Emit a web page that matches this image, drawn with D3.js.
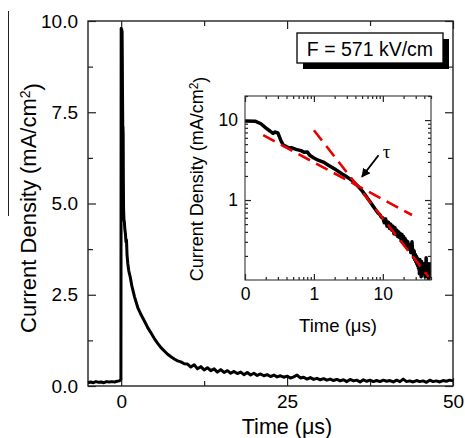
<!DOCTYPE html>
<html><head><meta charset="utf-8">
<script src="https://cdn.jsdelivr.net/npm/d3@7"></script>
<style>
body{margin:0;background:#fff}
svg{display:block}
text{font-family:"Liberation Sans",Arial,Helvetica,sans-serif;fill:#000}
</style>
</head><body>
<svg id="c" width="465" height="438"></svg>
<script>
// ---- data (time in µs, current density in mA/cm²) ----
const timeUs = [
 -5,-4.6,-4.2,-3.8,-3.4,-3,-2.6,-2.2,-1.8,-1.4,-1,-0.6,-0.3,-0.1,-0.04,
 0,0.1,0.14,0.17,0.2,0.23,0.255,0.27,0.3,0.33,0.36,0.42,0.48,0.55,0.65,0.72,0.8,0.88,
 1,1.15,1.37,1.6,2,2.5,3,3.5,4,4.5,5,5.5,6,6.5,7,7.5,8,8.5,9,9.5,
 10,10.5,11,11.5,12,12.5,13,13.5,14,14.5,15,15.5,16,16.5,17,17.5,18,18.5,19,19.5,
 20,20.5,21,21.5,22,22.5,23,23.5,24,24.5,25,25.5,26,26.5,27,27.5,28,28.5,29,29.5,
 30,30.5,31,31.5,32,32.5,33,33.5,34,34.5,35,35.5,36,36.5,37,37.5,38,38.5,39,39.5,
 40,40.5,41,41.5,42,42.5,43,43.5,44,44.5,45,45.5,46,46.5,47,47.5,48,48.5,49,49.5,50
];
const currentDensity = [
 0.09,0.11,0.09,0.12,0.10,0.11,0.09,0.12,0.11,0.12,0.11,0.13,0.14,0.16,0.2,
 9.8,9.75,9.7,9.0,8.0,7.3,6.8,7.1,6.9,5.6,4.85,4.55,4.5,4.3,4.15,3.95,4.0,3.6,
 3.35,3.15,2.98,2.75,2.45,2.15,1.95,1.78,1.6,1.45,1.3,1.17,1.05,0.96,0.87,0.80,0.74,0.69,0.66,0.61,
 0.60,0.52,0.58,0.47,0.53,0.44,0.50,0.42,0.47,0.38,0.45,0.37,0.42,0.35,0.40,0.34,0.38,0.31,0.37,0.30,
 0.35,0.29,0.33,0.28,0.31,0.26,0.30,0.25,0.28,0.24,0.27,0.22,0.25,0.30,0.22,0.24,0.19,0.23,0.18,0.21,
 0.17,0.20,0.16,0.19,0.15,0.18,0.14,0.17,0.12,0.18,0.14,0.16,0.11,0.17,0.13,0.16,0.12,0.15,0.12,0.16,
 0.13,0.15,0.11,0.16,0.12,0.19,0.12,0.14,0.11,0.15,0.12,0.14,0.10,0.16,0.12,0.14,0.11,0.15,0.13,0.16,0.14
];
// power-law fits in the inset (endpoints)
const fitShortT = [0.184, 26.5], fitShortJ = [6.47, 0.65];
const fitLongT  = [1.0, 46],    fitLongJ  = [7.46, 0.11];
// tau annotation (data coords of inset)
const tauArrowT = [8.67, 4.97], tauArrowJ = [3.63, 1.95];
const tauLabelT = 10, tauLabelJ = 3.5;

const mainXTicks = [0, 25, 50], mainXMinor = [12.5, 37.5];
const mainYTicks = [0, 2.5, 5, 7.5, 10], mainYMinor = [1.25, 3.75, 6.25, 8.75];
const insetXTicks = [0.1, 1, 10], insetXLabels = ["0", "1", "10"];
const insetXMinor = [0.2,0.3,0.4,0.5,0.6,0.7,0.8,0.9,2,3,4,5,6,7,8,9,20,30,40,50];
const insetYTicks = [1, 10], insetYLabels = ["1", "10"];
const insetYMinor = [0.2,0.3,0.4,0.5,0.6,0.7,0.8,0.9,2,3,4,5,6,7,8,9,20];
const legendText = "F = 571 kV/cm";

const data = timeUs.map((t, i) => ({t, j: currentDensity[i]}));
const svg = d3.select("#c");

// stray scan line seen in the reference
svg.append("line").attr("x1",8.5).attr("x2",8.5).attr("y1",11).attr("y2",216)
  .attr("stroke","#222").attr("stroke-width",1);

// ---- main plot ----
const M = {l:88, r:453, t:21, b:386};
const x = d3.scaleLinear().domain([-5, 50]).range([M.l, M.r]);
const y = d3.scaleLinear().domain([0, 10]).range([M.b, M.t]);

function ax(gen, tx, ty, vals, size, labels, pad, fs){
  const g = svg.append("g").attr("transform", `translate(${tx},${ty})`)
    .call(gen.tickValues(vals).tickSize(size).tickPadding(pad||0)
      .tickFormat(labels ? ((d,i)=>labels[i]) : ()=>""));
  g.select(".domain").remove();
  g.selectAll(".tick line").attr("stroke","#222").attr("stroke-width",1.2);
  g.selectAll("text").style("font-size",(fs||18)+"px").attr("fill","#111");
  return g;
}
ax(d3.axisBottom(x), 0, M.b, mainXTicks, -8, mainXTicks.map(String), 9, 19);
ax(d3.axisBottom(x), 0, M.b, mainXMinor, -5);
ax(d3.axisTop(x), 0, M.t, mainXTicks, -8);
ax(d3.axisTop(x), 0, M.t, mainXMinor, -5);
ax(d3.axisLeft(y), M.l, 0, mainYTicks, -8, mainYTicks.map(d=>d.toFixed(1)), 10, 19);
ax(d3.axisLeft(y), M.l, 0, mainYMinor, -5);
ax(d3.axisRight(y), M.r, 0, mainYTicks, -8);
ax(d3.axisRight(y), M.r, 0, mainYMinor, -5);

svg.append("rect").attr("x",M.l).attr("y",M.t).attr("width",M.r-M.l).attr("height",M.b-M.t)
  .attr("fill","none").attr("stroke","#222").attr("stroke-width",1.4);

svg.append("path").datum(data)
  .attr("d", d3.line().x(d=>x(d.t)).y(d=>y(d.j)))
  .attr("fill","none").attr("stroke","#000").attr("stroke-width",3).attr("stroke-linejoin","round");

// main axis titles
svg.append("text").attr("x", 287).attr("y", 434).attr("text-anchor","middle")
  .style("font-size","21.5px").text("Time (\u03bcs)");
const yl = svg.append("text").attr("transform","translate(36,208) rotate(-90)")
  .attr("text-anchor","middle").style("font-size","22px");
yl.append("tspan").text("Current Density (mA/cm");
yl.append("tspan").attr("dy","-0.45em").style("font-size","14px").text("2");
yl.append("tspan").attr("dy","0.45em").text(")");

// legend box with shadow
svg.append("rect").attr("x",303).attr("y",39).attr("width",146).attr("height",30).attr("fill","#000");
svg.append("rect").attr("x",297).attr("y",33).attr("width",146).attr("height",30)
  .attr("fill","#fff").attr("stroke","#000").attr("stroke-width",1.3);
svg.append("text").attr("x",370).attr("y",55.5).attr("text-anchor","middle")
  .style("font-size","19.5px").text(legendText);

// ---- inset ----
const I = {l:245, r:431, t:96, b:280};
const xi = d3.scaleLog().domain([0.1, 50]).range([I.l, I.r]);
const yi = d3.scaleLog().domain([0.1, 20]).range([I.b, I.t]);

svg.append("rect").attr("x",I.l).attr("y",I.t).attr("width",I.r-I.l).attr("height",I.b-I.t).attr("fill","#fff");
svg.append("clipPath").attr("id","ic").append("rect")
  .attr("x",I.l).attr("y",I.t).attr("width",I.r-I.l).attr("height",I.b-I.t);

ax(d3.axisBottom(xi), 0, I.b, insetXTicks, -6, insetXLabels, 8, 17.5);
ax(d3.axisBottom(xi), 0, I.b, insetXMinor, -3);
ax(d3.axisTop(xi), 0, I.t, insetXTicks, -6);
ax(d3.axisTop(xi), 0, I.t, insetXMinor, -3);
ax(d3.axisLeft(yi), I.l, 0, insetYTicks, -6, insetYLabels, 7, 17.5);
ax(d3.axisLeft(yi), I.l, 0, insetYMinor, -3);
ax(d3.axisRight(yi), I.r, 0, insetYTicks, -6);
ax(d3.axisRight(yi), I.r, 0, insetYMinor, -3);

const gi = svg.append("g").attr("clip-path","url(#ic)");
gi.append("path").datum(data.filter(d=>d.t>=0.1))
  .attr("d", d3.line().x(d=>xi(d.t)).y(d=>yi(Math.max(d.j,0.05))))
  .attr("fill","none").attr("stroke","#000").attr("stroke-width",3.5).attr("stroke-linejoin","round");
const fitLine = d3.line().x(d=>xi(d[0])).y(d=>yi(d[1]));
[[fitShortT,fitShortJ],[fitLongT,fitLongJ]].forEach(([ts,js])=>{
  gi.append("path").datum(ts.map((t,i)=>[t,js[i]])).attr("d",fitLine)
    .attr("fill","none").attr("stroke","#e80000").attr("stroke-width",2.6).attr("stroke-dasharray","13,7");
});

svg.append("rect").attr("x",I.l).attr("y",I.t).attr("width",I.r-I.l).attr("height",I.b-I.t)
  .attr("fill","none").attr("stroke","#333").attr("stroke-width",1.1);

// tau arrow
svg.append("defs").append("marker").attr("id","ah").attr("viewBox","0 0 10 10")
  .attr("refX",9).attr("refY",5).attr("markerWidth",5).attr("markerHeight",5).attr("orient","auto")
  .append("path").attr("d","M0,0 L10,5 L0,10 z").attr("fill","#000");
svg.append("line")
  .attr("x1",xi(tauArrowT[0])).attr("y1",yi(tauArrowJ[0]))
  .attr("x2",xi(tauArrowT[1])).attr("y2",yi(tauArrowJ[1]))
  .attr("stroke","#000").attr("stroke-width",1.8).attr("marker-end","url(#ah)");
svg.append("text").attr("x",xi(tauLabelT)).attr("y",yi(tauLabelJ)).attr("dy","0.1em")
  .style("font-family","'Liberation Serif','Times New Roman',serif").style("font-size","19px").text("\u03c4");

// inset titles
svg.append("text").attr("x",(I.l+I.r)/2).attr("y",332).attr("text-anchor","middle")
  .style("font-size","18.5px").text("Time (\u03bcs)");
const yl2 = svg.append("text").attr("transform","translate(203,179) rotate(-90)")
  .attr("text-anchor","middle").style("font-size","18px");
yl2.append("tspan").text("Current Density (mA/cm");
yl2.append("tspan").attr("dy","-0.45em").style("font-size","12px").text("2");
yl2.append("tspan").attr("dy","0.45em").text(")");
</script>
</body></html>
